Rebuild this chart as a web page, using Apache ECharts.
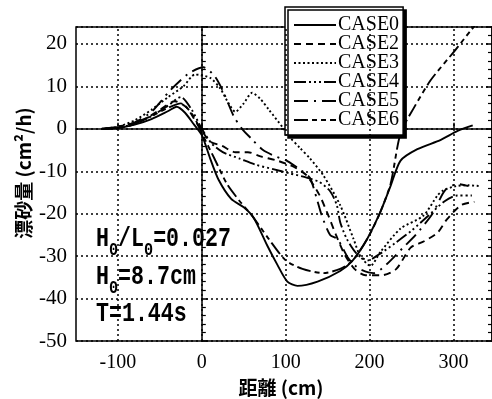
<!DOCTYPE html>
<html><head><meta charset="utf-8">
<script src="https://cdn.jsdelivr.net/npm/echarts@6/dist/echarts.min.js"></script>
<style>html,body{margin:0;padding:0;background:#fff}#c{width:492px;height:399px}</style>
</head><body><div id="c"></div>
<script>
const seriesNames = ['CASE0','CASE2','CASE3','CASE4','CASE5','CASE6'];
const case0 = [[-120,0],[-100,0.2],[-80,1],[-60,2.3],[-40,4.2],[-30,5.2],[-20,3.8],[-10,1.2],[0,-1.5],[10,-7],[20,-12],[35,-16.5],[50,-18.5],[62,-21],[78,-27.5],[90,-32],[102,-36],[114,-37],[138,-36],[165,-33.5],[180,-31],[197,-26],[213,-19.5],[225,-13.5],[237,-7.5],[257,-4.8],[285,-2.6],[305,-0.5],[323,0.8]];
const case2 = [[-115,0],[-90,0.5],[-70,2],[-50,4.5],[-32,6.5],[-18,5],[-5,1],[10,-3],[24,-4],[40,-5.5],[55,-5.5],[70,-6.5],[90,-7.5],[110,-9],[125,-11],[140,-15.5],[150,-20],[160,-25],[170,-29.5],[182,-33],[195,-34.5],[215,-34.5],[232,-33],[249,-28],[265,-26.5],[281,-24.5],[292,-21.4],[309,-18],[325,-17.2]];
const case3 = [[-120,0],[-100,0.5],[-80,2],[-60,4.5],[-40,7.5],[-22,10],[-8,12.8],[10,12],[22,9.5],[32,6],[40,4],[50,6],[60,8.5],[70,7],[80,4.5],[97,0.2],[105,-2],[117,-4.5],[129,-7],[145,-11],[165,-18],[181,-26],[189,-30],[201,-32.3],[213,-29],[237,-23.5],[264,-20.5],[281,-15.7],[288,-14.5],[303,-13.5],[318,-13.3],[332,-13.5]];
const case4 = [[-120,0],[-100,0.3],[-80,1.2],[-60,3],[-40,5.5],[-25,7.5],[-12,4.5],[0,0],[12,-3.5],[25,-5.5],[45,-7],[65,-8.5],[85,-9.5],[105,-10.5],[125,-11.5],[140,-12.5],[153,-14.7],[161,-18],[165,-22],[173,-26],[185,-29.5],[198,-31],[212,-29.5],[230,-27],[250,-24],[270,-20.5],[290,-17],[305,-15.7],[322,-15.7]];
const case5 = [[-120,0],[-100,0.3],[-80,1.5],[-60,4],[-38,9],[-16,13],[2,14.5],[15,12.5],[25,9],[38,3],[48,0],[60,-2.5],[73,-5],[88,-6.5],[102,-7.6],[120,-10],[129,-11.6],[137,-16.4],[143,-20.4],[153,-25],[162,-26],[175,-30.6],[188,-33],[205,-34],[220,-32],[240,-28],[255,-25],[275,-20],[290,-14.5],[305,-13],[318,-13.5]];
const case6 = [[-120,0],[-100,0.5],[-80,1.5],[-60,3],[-40,5],[-25,6],[-10,3],[0,-1],[15,-7],[30,-13],[45,-17],[60,-20.5],[80,-26],[100,-31],[120,-33],[145,-34],[165,-33],[180,-31],[197,-26],[211,-20.5],[225,-13],[237,-1],[253,5],[273,11.5],[302,18.5],[320,23],[335,26.5]];
const xTicks = [-100,0,100,200,300];
const yTicks = [-50,-40,-30,-20,-10,0,10,20];

const allData = [case0, case2, case3, case4, case5, case6];
const dashes = ['solid', [7,5], [2,2.5], [12,3,2,3,2,3,2,3], [14,6,2,6], [14,4,5,4,5,4]];

const chart = echarts.init(document.getElementById('c'), null, {renderer:'canvas'});
const serif = 'Liberation Serif';
const series = seriesNames.map((n,i)=>({
  name:n, type:'line', data:allData[i], showSymbol:false, symbol:'none', smooth:0.25,
  lineStyle:{color:'#000', width:1.9, type:dashes[i]}, itemStyle:{color:'#000'},
  animation:false, z:3
}));
series[0].markLine = {
  silent:true, symbol:['none','none'], label:{show:false}, animation:false,
  lineStyle:{color:'#000', type:[2,3], width:1.5},
  data: xTicks.map(v=>({xAxis:v}))
};

const yFmt = v => yTicks.includes(v) ? String(v) : '';
const richSub = {
  n:{fontFamily:'Liberation Mono', fontSize:27, lineHeight:34, verticalAlign:'top', fontWeight:'bold'},
  s:{fontFamily:'Liberation Mono', fontSize:19, lineHeight:34, verticalAlign:'bottom', fontWeight:'bold'}
};
chart.setOption({
  backgroundColor:'#fff',
  animation:false,
  grid:{left:76, top:27, width:417, height:314, show:true, borderColor:'#000', borderWidth:1.5, backgroundColor:'transparent'},
  xAxis:{type:'value', min:-150, max:346, interval:50,
    axisLine:{show:true, lineStyle:{color:'#000', width:1.5}},
    axisTick:{show:true, inside:true, length:6, customValues:xTicks, lineStyle:{color:'#000', width:1.5}},
    axisLabel:{color:'#000', fontFamily:serif, fontSize:20, margin:12, customValues:xTicks,
      formatter: v => (xTicks.includes(v) ? String(v) : '')},
    splitLine:{show:false}
  },
  yAxis:[{type:'value', min:-50, max:24, interval:10,
    axisLine:{show:true, lineStyle:{color:'#000', width:1.5}},
    axisTick:{show:true, inside:true, length:6, lineStyle:{color:'#000', width:1.5}},
    minorTick:{show:true, splitNumber:5, length:4, lineStyle:{color:'#000', width:1.2}},
    axisLabel:{color:'#000', fontFamily:serif, fontSize:21, margin:9, showMaxLabel:false, formatter:yFmt},
    splitLine:{show:true, lineStyle:{color:'#000', type:[2,3], width:1.5}}
  },{type:'value', min:-50, max:24, interval:10, position:'right',
    axisLine:{show:true, lineStyle:{color:'#000', width:1.5}},
    axisTick:{show:true, inside:true, length:6, lineStyle:{color:'#000', width:1.5}},
    minorTick:{show:true, splitNumber:5, length:4, lineStyle:{color:'#000', width:1.2}},
    axisLabel:{show:false}, splitLine:{show:false}
  }],
  legend:{
    orient:'vertical', left:285, top:7, data:seriesNames,
    backgroundColor:'#fff', borderColor:'#000', borderWidth:1.5,
    shadowColor:'#000', shadowOffsetX:3, shadowOffsetY:3, shadowBlur:0,
    padding:[8,4,5,8], itemWidth:42, itemHeight:10, itemGap:-1, selectedMode:false,
    itemStyle:{color:'rgba(0,0,0,0)', borderColor:'rgba(0,0,0,0)', borderWidth:0, opacity:0},
    textStyle:{color:'#000', fontFamily:serif, fontSize:20, lineHeight:20, padding:[0,0,0,-3]}
  },
  graphic:[
    {type:'text', x:24, y:173, rotation:Math.PI/2,
      style:{text:'漂砂量 (cm²/h)', fill:'#000', font:'bold 19px "Noto Sans CJK JP"', textAlign:'center', textVerticalAlign:'middle', align:'center', verticalAlign:'middle'}},
    {type:'text', x:281, y:388,
      style:{text:'距離 (cm)', fill:'#000', font:'bold 19px "Noto Sans CJK JP"', textAlign:'center', textVerticalAlign:'middle', align:'center', verticalAlign:'middle'}},
    {type:'text', x:96, y:226, scaleX:0.8,
      style:{text:'{n|H}{s|0}{n|/L}{s|0}{n|=0.027}', fill:'#000', rich:richSub}},
    {type:'text', x:96, y:264, scaleX:0.8,
      style:{text:'{n|H}{s|0}{n|=8.7cm}', fill:'#000', rich:richSub}},
    {type:'text', x:96, y:301, scaleX:0.8,
      style:{text:'{n|T=1.44s}', fill:'#000', rich:richSub}}
  ],
  series: series
});
</script></body></html>
